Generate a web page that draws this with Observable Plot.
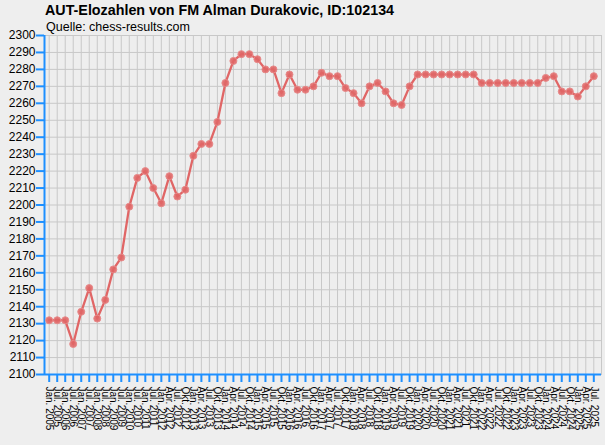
<!DOCTYPE html>
<html>
<head>
<meta charset="utf-8">
<script src="https://cdn.jsdelivr.net/npm/d3@7"></script>
<script src="https://cdn.jsdelivr.net/npm/@observablehq/plot@0.6"></script>
<style>
  html, body { margin: 0; padding: 0; background: #eeeeee; }
  #wrap { width: 605px; height: 445px; position: relative; background: #eeeeee; overflow: hidden; }
  #chart { position: absolute; left: 0; top: 0; }
  .title { position: absolute; left: 45px; top: 3px; font: bold 14.3px "Liberation Sans", Arial, sans-serif; line-height: 14px; color: #000; white-space: nowrap; z-index: 2; }
  .sub { position: absolute; left: 46px; top: 21px; font: 12.5px "Liberation Sans", Arial, sans-serif; line-height: 12px; color: #000; white-space: nowrap; z-index: 2; }
  svg { display: block; }
</style>
</head>
<body>
<div id="wrap">
  <div id="chart"></div>
  <div class="title">AUT-Elozahlen von FM Alman Durakovic, ID:102134</div>
  <div class="sub">Quelle: chess-results.com</div>
</div>
<script>
const periods = [
  "Jan. 2005","Jul. 2005","Jan. 2006","Jul. 2006","Jan. 2007","Jul. 2007","Jan. 2008","Jul. 2008",
  "Jan. 2009","Jul. 2009","Jan. 2010","Jul. 2010","Jan. 2011","Jul. 2011",
  "Jan. 2012","Apr. 2012","Jul. 2012","Okt. 2012",
  "Jan. 2013","Apr. 2013","Jul. 2013","Okt. 2013",
  "Jan. 2014","Apr. 2014","Jul. 2014","Okt. 2014",
  "Jan. 2015","Apr. 2015","Jul. 2015","Okt. 2015",
  "Jan. 2016","Apr. 2016","Jul. 2016","Okt. 2016",
  "Jan. 2017","Apr. 2017","Jul. 2017","Okt. 2017",
  "Jan. 2018","Apr. 2018","Jul. 2018","Okt. 2018",
  "Jan. 2019","Apr. 2019","Jul. 2019","Okt. 2019",
  "Jan. 2020","Apr. 2020","Jul. 2020","Okt. 2020",
  "Jan. 2021","Apr. 2021","Jul. 2021","Okt. 2021",
  "Jan. 2022","Apr. 2022","Jul. 2022","Okt. 2022",
  "Jan. 2023","Apr. 2023","Jul. 2023","Okt. 2023",
  "Jan. 2024","Apr. 2024","Jul. 2024","Okt. 2024",
  "Jan. 2025","Apr. 2025","Jul. 2025"
];
const elo = [
  2132,2132,2132,2118,2137,2151,2133,2144,
  2162,2169,2199,2216,2220,2210,
  2201,2217,2205,2209,
  2229,2236,2236,2249,
  2272,2285,2289,2289,
  2286,2280,2280,2266,
  2277,2268,2268,2270,
  2278,2276,2276,2269,
  2266,2260,2270,2272,
  2267,2260,2259,2270,
  2277,2277,2277,2277,
  2277,2277,2277,2277,
  2272,2272,2272,2272,
  2272,2272,2272,2272,
  2275,2276,2267,2267,
  2264,2270,2276
];
const yTicks = [2100,2110,2120,2130,2140,2150,2160,2170,2180,2190,2200,2210,2220,2230,2240,2250,2260,2270,2280,2290,2300];
const yDomain = [2100, 2300];
const xDomain = [-0.587, 68.96];

const data = periods.map((p, i) => ({i, p, v: elo[i]}));
const idx = periods.map((p, i) => i);

const blue = "#1e90ff";
const grid = "#c8c8c8";
const red = "#e06666";

const chart = Plot.plot({
  width: 605,
  height: 445,
  marginTop: 35,
  marginBottom: 71,
  marginLeft: 44,
  marginRight: 4,
  style: {background: "transparent", fontFamily: "'Liberation Sans', Arial, sans-serif", color: "#000"},
  x: {type: "linear", domain: xDomain},
  y: {domain: yDomain},
  marks: [
    Plot.gridX(idx, {stroke: grid, strokeOpacity: 1, strokeWidth: 1}),
    Plot.gridY(yTicks, {stroke: grid, strokeOpacity: 1, strokeWidth: 1}),
    Plot.frame({stroke: grid, strokeWidth: 1}),
    Plot.ruleY([yDomain[0]], {stroke: blue, strokeWidth: 2}),
    Plot.ruleX([xDomain[0]], {stroke: blue, strokeWidth: 2}),
    Plot.axisY(yTicks, {tickSize: 8, tickPadding: 1, stroke: blue, fill: "#000", strokeWidth: 2, fontSize: 12, label: null, tickFormat: d => String(d)}),
    Plot.axisX(idx, {tickSize: 8, tickPadding: 4, tickRotate: 90, stroke: blue, fill: "#000", strokeWidth: 2, fontSize: 10, label: null, tickFormat: i => periods[i]}),
    Plot.line(data, {x: "i", y: "v", stroke: red, strokeWidth: 2.3}),
    Plot.dot(data, {x: "i", y: "v", r: 3.5, fill: red, fillOpacity: 0.9, stroke: "#e88a8a", strokeWidth: 1})
  ]
});
document.getElementById("chart").appendChild(chart);
</script>
</body>
</html>
